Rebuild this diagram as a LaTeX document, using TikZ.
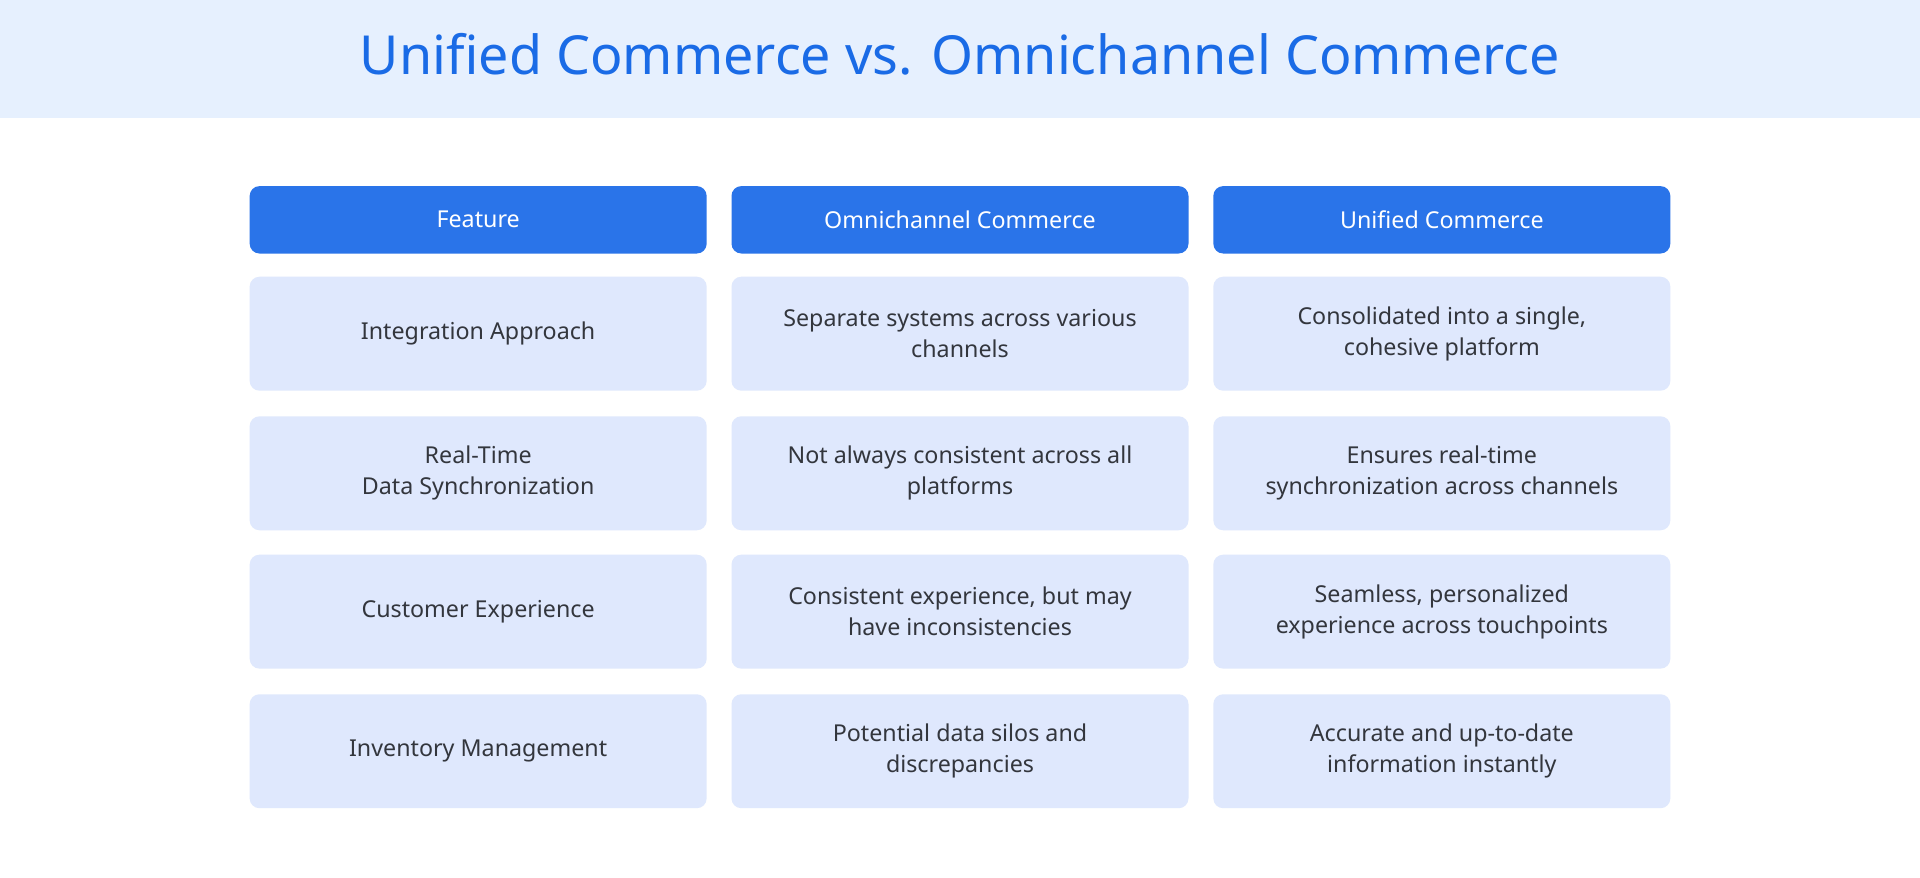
\documentclass[tikz,border=0pt]{standalone}
\usepackage{fontspec}
\setmainfont{Noto Sans}
\definecolor{bandblue}{HTML}{E6F0FE}
\definecolor{titleblue}{HTML}{1A6BE6}
\definecolor{headblue}{HTML}{2A74E9}
\definecolor{cellblue}{HTML}{DFE8FD}
\definecolor{celltext}{HTML}{33363D}
\tikzset{
  headcell/.style={fill=headblue, rounded corners=0.08cm, text=white,
    minimum width=3.73cm, minimum height=0.55cm, font=\fontsize{5.4}{6.5}\selectfont},
  bodycell/.style={fill=cellblue, rounded corners=0.08cm, text=celltext,
    minimum width=3.73cm, minimum height=0.93cm, align=center,
    font=\fontsize{5.4}{7.2}\selectfont}
}
\begin{document}
\begin{tikzpicture}[x=0.01cm,y=-0.01cm]
            % Background and title band
            \useasboundingbox (0,0) rectangle (1568,717);
            \fill [white] (0,0) rectangle (1568,717);
            \fill [bandblue] (0,0) rectangle (1568,96);
            \node (title) at (784,44) [text=titleblue, font=\fontsize{12.5}{14}\selectfont] {Unified Commerce vs. Omnichannel Commerce};

            % Header row
            \node (hfeat) at (390.5,179.5) [headcell] {Feature};
            \node (homni) at (784,179.5) [headcell] {Omnichannel Commerce};
            \node (hunif) at (1177.5,179.5) [headcell] {Unified Commerce};

            % Body rows
            \foreach \y/\a/\b/\c [count=\r] in {
                272.5/{Integration Approach}/{Separate systems across various\\channels}/{Consolidated into a single,\\cohesive platform},
                386.5/{Real-Time\\Data Synchronization}/{Not always consistent across all\\platforms}/{Ensures real-time\\synchronization across channels},
                499.5/{Customer Experience}/{Consistent experience, but may\\have inconsistencies}/{Seamless, personalized\\experience across touchpoints},
                613.5/{Inventory Management}/{Potential data silos and\\discrepancies}/{Accurate and up-to-date\\information instantly}} {
                \node (feat\r) at (390.5,\y) [bodycell] {\a};
                \node (omni\r) at (784,\y) [bodycell] {\b};
                \node (unif\r) at (1177.5,\y) [bodycell] {\c};
            }
\end{tikzpicture}
\end{document}
